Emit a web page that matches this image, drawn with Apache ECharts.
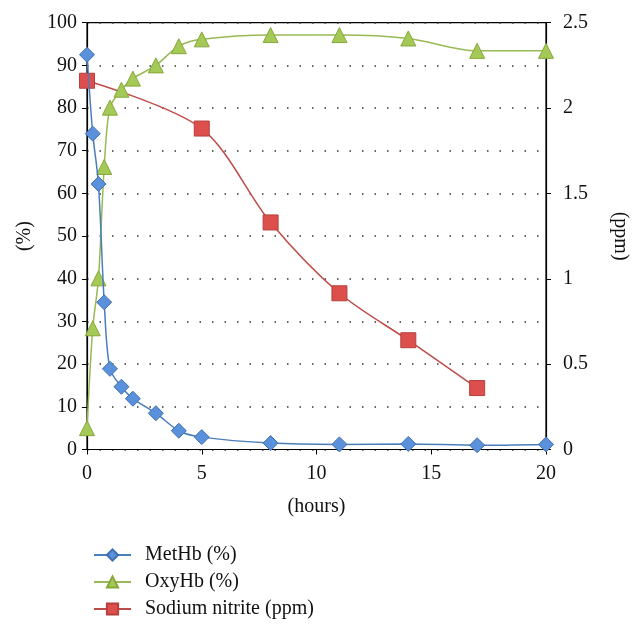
<!DOCTYPE html>
<html>
<head>
<meta charset="utf-8">
<script src="https://cdn.jsdelivr.net/npm/echarts@6/dist/echarts.min.js"></script>
<style>html,body{margin:0;padding:0;background:#fff;}#c{width:633px;height:630px;}</style>
</head>
<body>
<div id="c"></div>
<script>
const hours = [0, 0.25, 0.5, 0.75, 1, 1.5, 2, 3, 4, 5, 8, 11, 14, 17, 20];
const metHb = [92.5, 74, 62.2, 34.5, 18.9, 14.7, 11.9, 8.5, 4.4, 2.9, 1.5, 1.2, 1.3, 1.0, 1.2];
const oxyHb = [5, 28.4, 40.1, 66.2, 80.1, 84.3, 86.9, 90.0, 94.5, 96.1, 97.1, 97.1, 96.3, 93.4, 93.4];
const nitriteHours = [0, 5, 8, 11, 14, 17];
const nitrite = [2.16, 1.88, 1.33, 0.915, 0.64, 0.36];
const seriesNames = ['MetHb (%)', 'OxyHb (%)', 'Sodium nitrite (ppm)'];

const font = 'Liberation Serif';
const txt = { fontFamily: font, fontSize: 20, color: '#111' };
const zip = (xs, ys) => xs.map((x, i) => [x, ys[i]]);

const chart = echarts.init(document.getElementById('c'));
chart.setOption({
  animation: false,
  grid: { left: 87, right: 87, top: 22.7, bottom: 180.5, show: true, borderColor: '#000', borderWidth: 1.2, backgroundColor: 'transparent', containLabel: false, outerBoundsMode: 'none' },
  legend: {
    orient: 'vertical', left: 88, top: 540,
    itemWidth: 37, itemHeight: 14, itemGap: 7,
    textStyle: Object.assign({}, txt, { lineHeight: 20, padding: [0, 0, 0, 9] }),
    data: seriesNames
  },
  xAxis: {
    type: 'value', min: 0, max: 20, interval: 5,
    name: '(hours)', nameLocation: 'middle', nameGap: 47, nameTextStyle: txt,
    axisLine: { lineStyle: { color: '#000', width: 1.2 } },
    axisTick: { show: true, length: 5, lineStyle: { color: '#000' } },
    axisLabel: Object.assign({ margin: 14 }, txt),
    splitLine: { show: false }
  },
  yAxis: [
    {
      type: 'value', min: 0, max: 100, interval: 10,
      name: '(%)', nameLocation: 'middle', nameGap: 52, nameRotate: 90, nameTextStyle: txt,
      axisLine: { show: true, lineStyle: { color: '#000', width: 1.2 } },
      axisTick: { show: true, length: 5, lineStyle: { color: '#000' } },
      axisLabel: Object.assign({ margin: 10 }, txt),
      splitLine: { show: true, lineStyle: { color: '#333', width: 1.5, type: [1.5, 11] } }
    },
    {
      type: 'value', min: 0, max: 2.5, interval: 0.5, position: 'right',
      name: '(ppm)', nameLocation: 'middle', nameGap: 64, nameRotate: -90, nameTextStyle: txt,
      axisLine: { show: true, lineStyle: { color: '#000', width: 1.2 } },
      axisTick: { show: true, length: 5, lineStyle: { color: '#000' } },
      axisLabel: Object.assign({ margin: 17 }, txt),
      splitLine: { show: false }
    }
  ],
  series: [
    {
      name: seriesNames[0], type: 'line', yAxisIndex: 0, smooth: 0.3,
      data: zip(hours, metHb),
      symbol: 'diamond', symbolSize: 15,
      lineStyle: { color: '#4a7ebb', width: 1.5 },
      itemStyle: { color: '#5b91da', borderColor: '#3d6fb3', borderWidth: 1 },
      z: 4
    },
    {
      name: seriesNames[1], type: 'line', yAxisIndex: 0, smooth: 0.3,
      data: zip(hours, oxyHb),
      symbol: 'triangle', symbolSize: 15,
      lineStyle: { color: '#98b954', width: 1.5 },
      itemStyle: { color: '#a4c956', borderColor: '#86a83a', borderWidth: 1 },
      z: 3
    },
    {
      name: seriesNames[2], type: 'line', yAxisIndex: 1, smooth: 0.3,
      data: zip(nitriteHours, nitrite),
      symbol: 'rect', symbolSize: 15,
      lineStyle: { color: '#be4b48', width: 1.5 },
      itemStyle: { color: '#dc4f4c', borderColor: '#b5403d', borderWidth: 1 },
      z: 2
    }
  ]
});
</script>
</body>
</html>
